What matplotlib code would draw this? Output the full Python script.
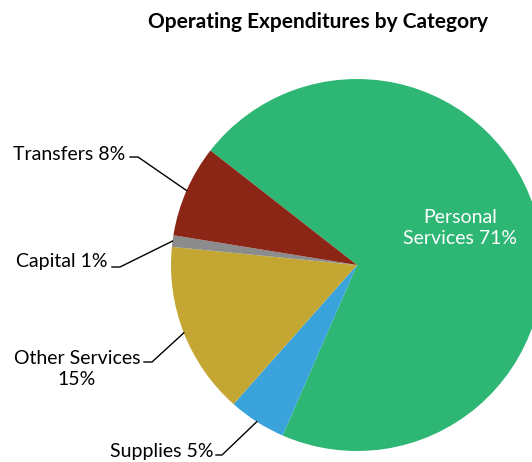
import numpy as np
import matplotlib.pyplot as plt

plt.rcParams['font.family'] = ['Lato', 'DejaVu Sans']

# Data
categories = ['Personal Services', 'Supplies', 'Other Services', 'Capital', 'Transfers']
shares = [71, 5, 15, 1, 8]
labels = ['Personal\nServices 71%', 'Supplies 5%', 'Other Services\n15%', 'Capital 1%', 'Transfers 8%']
colors = ['#2db674', '#3aa3dc', '#c4a633', '#8c8c8c', '#8b2616']

W, H = 532, 462
fig = plt.figure(figsize=(W / 100, H / 100), dpi=100)
ax = fig.add_axes([0, 0, 1, 1])

cx, cy, r = 357, H - 265, 186
wedges, _ = ax.pie(shares, colors=colors, startangle=142, counterclock=False,
                   center=(cx, cy), radius=r, frame=True,
                   wedgeprops=dict(linewidth=0))
ax.set_xlim(0, W)
ax.set_ylim(0, H)
ax.set_aspect('equal')
ax.axis('off')

# label text positions (pixels from top-left), anchor side
label_pos = {
    'Supplies': (213, 452, 'right'),
    'Other Services': (77, 369, 'center'),
    'Capital': (108, 262, 'right'),
    'Transfers': (125, 155, 'right'),
}
elbow = {
    'Supplies': (216, 222, 455),
    'Other Services': (144, 152, 362),
    'Capital': (112, 120, 267),
    'Transfers': (130, 138, 157),
}

for w, cat, lab in zip(wedges, categories, labels):
    if cat == 'Personal Services':
        ax.text(460, H - 228, lab, ha='center', va='center', color='white',
                fontsize=14, linespacing=1.35)
        continue
    x, y, ha = label_pos[cat]
    ax.text(x, H - y, lab, ha=ha, va='center', fontsize=14, linespacing=1.35)
    mid = np.deg2rad((w.theta1 + w.theta2) / 2)
    ex, ey = cx + r * np.cos(mid), cy + r * np.sin(mid)
    x0, x1, yy = elbow[cat]
    ax.plot([x0, x1, ex], [H - yy, H - yy, ey], color='black', lw=1)

fig.text(318 / W, 1 - 22 / H, 'Operating Expenditures by Category',
         ha='center', va='center', fontsize=15, fontweight='bold')

fig.savefig('out.png', dpi=100)
